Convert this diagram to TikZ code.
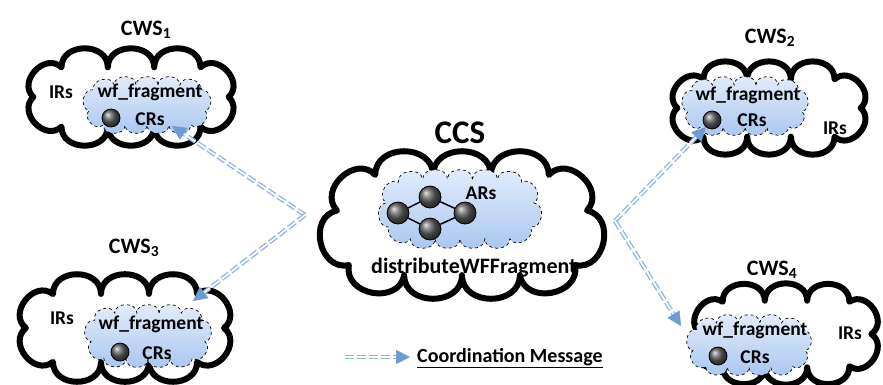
\documentclass[tikz,border=0pt]{standalone}
\usepackage{fontspec}
\setmainfont{Carlito}
\usetikzlibrary{arrows.meta,calc}
\definecolor{msgblue}{RGB}{140,178,226}
\definecolor{headblue}{RGB}{108,155,213}
\definecolor{inntop}{RGB}{228,237,251}
\definecolor{innbot}{RGB}{168,198,240}
% puffy outline round a rounded rectangle:
% #1 style, #2 cx, #3 cy, #4 half extent x, #5 half extent y, #6 puffs, #7 looseness, #8 corner ratio
\newcommand\cloudshape[8]{%
  \pgfmathsetmacro\cK{0.294*#7}%
  \pgfmathsetmacro\cC{3.6*(#4+#5)/#6}%
  \pgfmathsetmacro\cA{#4-\cK*\cC}\pgfmathsetmacro\cB{#5-\cK*\cC}%
  \pgfmathsetmacro\cC{(4*(\cA+\cB)-1.717*#8*\cB)/#6}%
  \pgfmathsetmacro\cA{#4-\cK*\cC}\pgfmathsetmacro\cB{#5-\cK*\cC}%
  \pgfmathsetmacro\cR{#8*\cB}%
  \pgfmathsetmacro\cHa{\cA-\cR}\pgfmathsetmacro\cHb{\cB-\cR}%
  \pgfmathsetmacro\cQ{pi*\cR/2}%
  \pgfmathsetmacro\cLa{\cHa}%
  \pgfmathsetmacro\cLb{\cLa+\cQ}%
  \pgfmathsetmacro\cLc{\cLb+2*\cHb}%
  \pgfmathsetmacro\cLd{\cLc+\cQ}%
  \pgfmathsetmacro\cLe{\cLd+2*\cHa}%
  \pgfmathsetmacro\cLf{\cLe+\cQ}%
  \pgfmathsetmacro\cLg{\cLf+2*\cHb}%
  \pgfmathsetmacro\cLh{\cLg+\cQ}%
  \pgfmathsetmacro\cLt{\cLh+\cHa}%
  \foreach \k in {0,...,#6}{%
    \pgfmathsetmacro\ss{mod((\k+0.5)*\cLt/#6,\cLt)}%
    \ifdim\ss pt<\cLa pt
      \pgfmathsetmacro\px{#2+\ss}\pgfmathsetmacro\py{#3-\cB}%
    \else\ifdim\ss pt<\cLb pt
      \pgfmathsetmacro\ph{deg((\ss-\cLa)/\cR)}%
      \pgfmathsetmacro\px{#2+\cHa+\cR*sin(\ph)}\pgfmathsetmacro\py{#3-\cHb-\cR*cos(\ph)}%
    \else\ifdim\ss pt<\cLc pt
      \pgfmathsetmacro\px{#2+\cA}\pgfmathsetmacro\py{#3-\cHb+\ss-\cLb}%
    \else\ifdim\ss pt<\cLd pt
      \pgfmathsetmacro\ph{deg((\ss-\cLc)/\cR)}%
      \pgfmathsetmacro\px{#2+\cHa+\cR*cos(\ph)}\pgfmathsetmacro\py{#3+\cHb+\cR*sin(\ph)}%
    \else\ifdim\ss pt<\cLe pt
      \pgfmathsetmacro\px{#2+\cHa-(\ss-\cLd)}\pgfmathsetmacro\py{#3+\cB}%
    \else\ifdim\ss pt<\cLf pt
      \pgfmathsetmacro\ph{deg((\ss-\cLe)/\cR)}%
      \pgfmathsetmacro\px{#2-\cHa-\cR*sin(\ph)}\pgfmathsetmacro\py{#3+\cHb+\cR*cos(\ph)}%
    \else\ifdim\ss pt<\cLg pt
      \pgfmathsetmacro\px{#2-\cA}\pgfmathsetmacro\py{#3+\cHb-(\ss-\cLf)}%
    \else\ifdim\ss pt<\cLh pt
      \pgfmathsetmacro\ph{deg((\ss-\cLg)/\cR)}%
      \pgfmathsetmacro\px{#2-\cHa-\cR*cos(\ph)}\pgfmathsetmacro\py{#3-\cHb-\cR*sin(\ph)}%
    \else
      \pgfmathsetmacro\px{#2-\cHa+(\ss-\cLh)}\pgfmathsetmacro\py{#3-\cB}%
    \fi\fi\fi\fi\fi\fi\fi\fi
    \coordinate (cp\k) at (\px,\py);
  }%
  \draw[#1] (cp0) \foreach \k in {1,...,#6}{ to[bend left=90, looseness=#7] (cp\k) } -- cycle;
}
\tikzset{
  outercloud/.style={draw=black, line width=6pt, fill=white, line join=round},
  innercloud/.style={draw=black, dashed, line width=0.7pt, top color=inntop, bottom color=innbot},
  ballnode/.style={circle, draw=black, line width=0.8pt, inner sep=0pt, minimum size=18pt,
    ball color=gray!75!black},
  msg/.style={draw=msgblue, double=white, double distance=1.8pt, line width=1.3pt,
    dash pattern=on 9pt off 3pt},
  tiparrow/.style={draw=headblue, line width=0.5pt, -{Triangle[length=14pt,width=14pt,fill=headblue]}},
  title/.style={font=\fontsize{22}{22}\selectfont\bfseries, inner sep=0pt},
  bigtitle/.style={font=\fontsize{33}{33}\selectfont\bfseries, inner sep=0pt},
  lbl/.style={font=\fontsize{19.5}{19.5}\selectfont\bfseries, inner sep=0pt},
  dlbl/.style={font=\fontsize{22}{22}\selectfont\bfseries, inner sep=0pt},
  leg/.style={font=\fontsize{20}{20}\selectfont\bfseries, inner sep=0pt},
}
\begin{document}
\begin{tikzpicture}[x=1pt,y=-1pt]
\useasboundingbox (0,0) rectangle (883,384);

% ---------- CWS1 ----------
\node[title] (t1) at (146,30) {CWS\textsubscript{1}};
\cloudshape{outercloud}{131}{97}{115}{47}{10}{1.4}{0.9}
\cloudshape{innercloud}{147}{105}{66}{28}{13}{1.3}{0.8}
\node[lbl] (ir1) at (61,92) {IRs};
\node[lbl] (wf1) at (150,92) {wf\_fragment};
\node[ballnode] (b1) at (111,118) {};
\node[lbl] (cr1) at (150,119) {CRs};

% ---------- CWS2 ----------
\node[title] (t2) at (770,38) {CWS\textsubscript{2}};
\cloudshape{outercloud}{769}{108}{108}{45}{10}{1.4}{0.9}
\cloudshape{innercloud}{745}{106}{65}{29}{13}{1.3}{0.8}
\node[lbl] (wf2) at (748,95) {wf\_fragment};
\node[ballnode] (b2) at (712,120) {};
\node[lbl] (cr2) at (752,120) {CRs};
\node[lbl] (ir2) at (835,128) {IRs};

% ---------- CWS3 ----------
\node[title] (t3) at (134,248) {CWS\textsubscript{3}};
\cloudshape{outercloud}{125}{328}{117}{52}{10}{1.4}{0.9}
\cloudshape{innercloud}{148}{336}{65}{31}{13}{1.3}{0.8}
\node[lbl] (ir3) at (62,318) {IRs};
\node[lbl] (wf3) at (151,324) {wf\_fragment};
\node[ballnode] (b3) at (120,352) {};
\node[lbl] (cr3) at (157,353) {CRs};

% ---------- CWS4 ----------
\node[title] (t4) at (772,270) {CWS\textsubscript{4}};
\cloudshape{outercloud}{786}{334}{101}{49}{10}{1.4}{0.9}
\cloudshape{innercloud}{749}{345}{64}{30}{13}{1.3}{0.8}
\node[lbl] (wf4) at (755,330) {wf\_fragment};
\node[ballnode] (b4) at (718,356) {};
\node[lbl] (cr4) at (755,357) {CRs};
\node[lbl] (ir4) at (850,333) {IRs};

% ---------- CCS ----------
\node[bigtitle] (tc) at (460,133) {CCS};
\cloudshape{outercloud}{462}{225}{147}{72}{11}{1.4}{0.75}
\cloudshape{innercloud}{460}{209}{83}{39}{15}{1.3}{0.8}
\node[lbl] (ar) at (481,193) {ARs};
\node[ballnode, minimum size=22pt] (bl) at (398,213) {};
\node[ballnode, minimum size=22pt] (bt) at (430,197) {};
\node[ballnode, minimum size=22pt] (br) at (465,213) {};
\node[ballnode, minimum size=22pt] (bb) at (430,229) {};
\draw[line width=1.5pt] (bl) -- (bt) (bt) -- (br) (br) -- (bb) (bb) -- (bl);
\node[dlbl] (df) at (474,268) {distributeWFFragment};

% ---------- coordination messages ----------
\coordinate (sW) at (305,215);
\coordinate (sE) at (615,221);
\coordinate (e1) at (172,126);
\coordinate (e3) at (193,301);
\coordinate (e2) at (706,127);
\coordinate (e4) at (681,326);
\foreach \s/\e in {sW/e1, sW/e3, sE/e2, sE/e4}{
  \draw[msg, shorten >=12pt] (\s) -- (\e);
  \draw[tiparrow] ($(\e)!14pt!(\s)$) -- (\e);
}

% ---------- legend ----------
\coordinate (lgA) at (345,357);
\coordinate (lgB) at (410,357);
\draw[msg, shorten >=14pt] (lgA) -- (lgB);
\draw[tiparrow] ($(lgB)!14pt!(lgA)$) -- (lgB);
\node[leg, anchor=west] (lgT) at (417,358) {\underline{Coordination Message}};
\end{tikzpicture}
\end{document}
